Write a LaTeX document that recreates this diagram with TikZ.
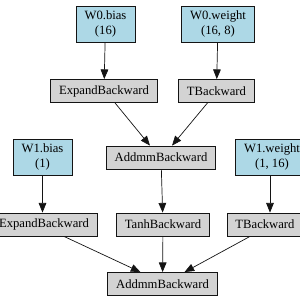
\documentclass[tikz,border=0pt]{standalone}
\usepackage{fontspec}
\setmainfont{Liberation Serif}
\usetikzlibrary{arrows.meta}
\definecolor{leaf}{RGB}{173,216,230}
\definecolor{grad}{RGB}{211,211,211}
\definecolor{ink}{RGB}{20,20,20}
\tikzset{
  >={Triangle[length=2.9mm,width=2.3mm]},
  param/.style={draw=ink,fill=leaf,line width=0.7pt,align=center,
    minimum width=1.71cm,minimum height=1.08cm,inner xsep=0.26cm,inner ysep=0pt,
    font=\fontsize{10.8}{12.6}\selectfont},
  fn/.style={draw=ink,fill=grad,line width=0.7pt,
    minimum height=0.69cm,inner xsep=0.25cm,inner ysep=0pt,
    font=\fontsize{10.8}{12.6}\selectfont},
  edge/.style={->,line width=0.6pt,draw=ink},
}
\begin{document}
\begin{tikzpicture}[x=0.03cm,y=-0.03cm]
  \useasboundingbox (0,0) rectangle (300,300);
  \clip (0,0) rectangle (300,300);
  % leaves
  \node[param] (w0b) at (105.5,24) {W0.bias\\(16)};
  \node[param] (w0w) at (218,24) {W0.weight\\(16, 8)};
  \node[param] (w1b) at (42.5,157) {W1.bias\\(1)};
  \node[param] (w1w) at (272,157) {W1.weight\\(1, 16)};
  % backward functions
  \node[fn] (exp0) at (104,91) {ExpandBackward};
  \node[fn] (t0) at (216.5,91) {TBackward};
  \node[fn] (am0) at (161,157.5) {AddmmBackward};
  \node[fn] (exp1) at (44,224.5) {ExpandBackward};
  \node[fn] (tanh) at (163,224.5) {TanhBackward};
  \node[fn] (t1) at (265,224.5) {TBackward};
  \node[fn] (am1) at (162.5,284) {AddmmBackward};
  % edges
  \draw[edge] (w0b) -- (exp0);
  \draw[edge] (w0w) -- (t0);
  \draw[edge] ([xshift=0.33cm]exp0.south) -- ([xshift=-0.33cm]am0.north);
  \draw[edge] ([xshift=-0.27cm]t0.south) -- ([xshift=0.33cm]am0.north);
  \draw[edge] (w1b) -- (w1b |- exp1.north);
  \draw[edge] (am0) -- (tanh);
  \draw[edge] ([xshift=-0.06cm]w1w.south) -- ([xshift=-0.06cm]w1w.south |- t1.north);
  \draw[edge] ([xshift=0.6cm]exp1.south) -- ([xshift=-0.66cm]am1.north);
  \draw[edge] (tanh) -- (am1);
  \draw[edge] ([xshift=-0.45cm]t1.south) -- ([xshift=0.66cm]am1.north);
\end{tikzpicture}
\end{document}
